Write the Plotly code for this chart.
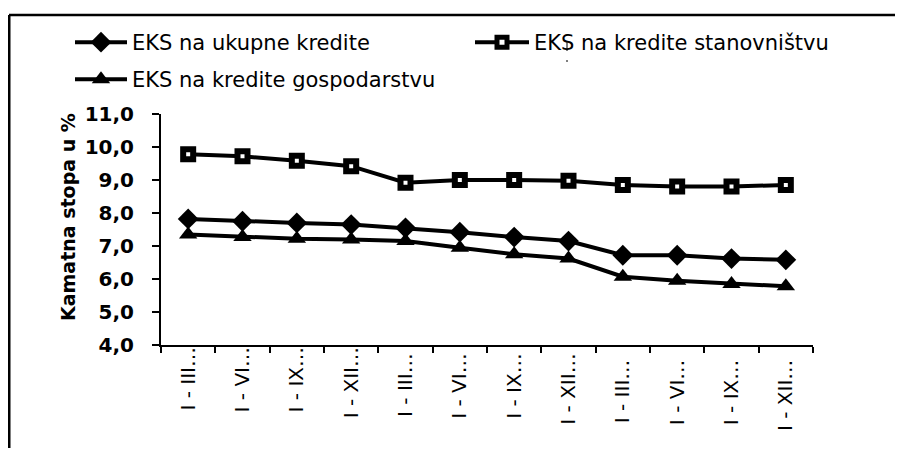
import plotly.graph_objects as go

categories = ["I - III…", "I - VI…", "I - IX…", "I - XII…",
              "I - III… ", "I - VI… ", "I - IX… ", "I - XII… ",
              "I - III…  ", "I - VI…  ", "I - IX…  ", "I - XII…  "]
ukupne = [7.82, 7.75, 7.7, 7.65, 7.55, 7.42, 7.27, 7.15, 6.72, 6.72, 6.62, 6.58]
stanovnistvu = [9.78, 9.72, 9.58, 9.42, 8.92, 9.0, 9.0, 8.98, 8.85, 8.8, 8.8, 8.85]
gospodarstvu = [7.35, 7.27, 7.22, 7.2, 7.15, 6.95, 6.75, 6.62, 6.07, 5.95, 5.85, 5.78]
names = ["EKS na ukupne kredite", "EKS na kredite stanovništvu", "EKS na kredite gospodarstvu"]
ytick_vals = [4, 5, 6, 7, 8, 9, 10, 11]
y_title = "Kamatna stopa u %"

FONT = "DejaVu Sans"
OFF = 8  # default page body margin
W, H = 903 - 2 * OFF, 456 - 2 * OFF
PX0, PX1, PY0, PY1 = 161, 813, 114, 345  # plot area in window pixels
L, R, T, B = PX0 - OFF, W - (PX1 - OFF), PY0 - OFF, H - (PY1 - OFF)
pw = PX1 - PX0
ph = PY1 - PY0


def px_x(px):
    return (px - PX0) / pw


def px_y(py):
    return (PY1 - py) / ph


fig = go.Figure()
fig.add_trace(go.Scatter(x=categories, y=ukupne, name=names[0], mode="lines+markers",
                         line=dict(color="black", width=4),
                         marker=dict(symbol="diamond", size=16, color="black"),
                         legend="legend"))
fig.add_trace(go.Scatter(x=categories, y=stanovnistvu, name=names[1], mode="lines+markers",
                         line=dict(color="black", width=4),
                         marker=dict(symbol="square", size=10, color="white",
                                     line=dict(color="black", width=6)),
                         legend="legend3"))
fig.add_trace(go.Scatter(x=categories, y=gospodarstvu, name=names[2], mode="lines+markers",
                         line=dict(color="black", width=4),
                         marker=dict(symbol="triangle-up", size=16, color="black"),
                         legend="legend2"))

leg_common = dict(orientation="h", font=dict(size=21, family=FONT),
                  bgcolor="rgba(0,0,0,0)", xanchor="left", yanchor="top",
                  xref="paper", yref="paper")
fig.update_layout(
    width=W, height=H,
    margin=dict(l=L, r=R, t=T, b=B, autoexpand=False),
    paper_bgcolor="white", plot_bgcolor="white",
    separators=",.",
    font=dict(family=FONT, color="black", size=18),
    showlegend=True,
    legend=dict(**leg_common, itemwidth=52, x=px_x(70), y=px_y(22)),
    legend3=dict(**leg_common, itemwidth=54, x=px_x(470), y=px_y(22)),
    legend2=dict(**leg_common, itemwidth=52, x=px_x(70), y=px_y(59)),
)

fig.update_xaxes(showgrid=False, showline=True, linecolor="black", linewidth=2,
                 ticks="outside", ticklen=6, tickcolor="black", tickwidth=2,
                 tickson="boundaries", tickangle=-90, automargin=False,
                 range=[-0.5, len(categories) - 0.5], ticklabelstandoff=-8,
                 tickfont=dict(size=20, family=FONT), zeroline=False)
fig.update_yaxes(range=[4, 11], tickvals=ytick_vals, tickformat=".1f",
                 showgrid=False, showline=True, linecolor="black", linewidth=2,
                 ticks="outside", ticklen=7, tickcolor="black", tickwidth=2,
                 ticklabelstandoff=14,
                 tickfont=dict(size=20, family=FONT, weight="bold"), zeroline=False,
                 automargin=False)

# y-axis title placed as rotated text
fig.add_annotation(text="<b>" + y_title + "</b>", xref="paper", yref="paper",
                   x=px_x(68), y=px_y(217), textangle=-90, showarrow=False,
                   font=dict(size=19, family=FONT, color="black"),
                   xanchor="center", yanchor="middle")

# frame lines from the scanned page
fig.add_shape(type="line", xref="paper", yref="paper", x0=px_x(9), x1=px_x(903),
              y0=px_y(15), y1=px_y(15), line=dict(color="black", width=2.5))
fig.add_shape(type="line", xref="paper", yref="paper", x0=px_x(9), x1=px_x(9),
              y0=px_y(15), y1=px_y(456), line=dict(color="black", width=3))
fig.add_shape(type="line", xref="paper", yref="paper", x0=px_x(567), x1=px_x(567),
              y0=px_y(42), y1=px_y(62), line=dict(color="black", width=1, dash="dash"))

fig.write_html("out.html")
